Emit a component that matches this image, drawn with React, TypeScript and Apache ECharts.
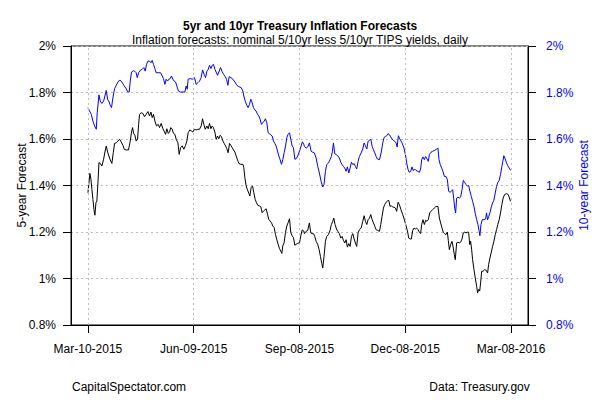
import React, { useEffect, useRef } from 'react';
import * as echarts from 'echarts';

// x values are days since Mar-10-2015
const tickDays = [0, 91, 182, 273, 364];
const tickLabels = ['Mar-10-2015', 'Jun-09-2015', 'Sep-08-2015', 'Dec-08-2015', 'Mar-08-2016'];

const yMin = 0.8;
const yMax = 2;
const yStep = 0.2;

// 5-year breakeven inflation forecast (%), [day, value]
const fiveYear: [number, number][] = [
  [0, 1.369], [0.9, 1.412], [1.7, 1.452], [2.6, 1.427], [3.4, 1.384], [4.3, 1.34], [5.2, 1.297], [6.0, 1.272], [6.9, 1.326], [7.7, 1.333],
  [8.6, 1.412], [9.5, 1.498], [10.6, 1.495], [12.0, 1.484], [13.5, 1.513], [14.6, 1.544], [15.8, 1.57], [16.9, 1.544], [18.0, 1.527], [19.2, 1.51],
  [20.6, 1.495], [21.8, 1.541], [22.9, 1.581], [24.4, 1.584], [25.8, 1.591], [27.2, 1.599], [28.7, 1.587], [30.1, 1.573], [31.2, 1.556], [32.9, 1.553],
  [34.9, 1.553], [36.4, 1.591], [37.5, 1.63], [38.4, 1.649], [39.3, 1.624], [40.4, 1.616], [41.5, 1.591], [42.7, 1.599], [43.6, 1.663], [44.4, 1.706],
  [45.8, 1.713], [47.3, 1.71], [48.7, 1.696], [50.1, 1.706], [51.6, 1.718], [53.0, 1.699], [54.2, 1.716], [55.3, 1.692], [56.4, 1.706], [57.6, 1.677],
  [59.0, 1.656], [60.5, 1.663], [61.6, 1.649], [63.0, 1.667], [64.5, 1.644], [65.9, 1.63], [66.8, 1.62], [67.9, 1.644], [69.1, 1.624], [70.2, 1.63],
  [71.3, 1.649], [72.5, 1.642], [73.6, 1.624], [74.8, 1.62], [75.9, 1.599], [77.4, 1.584], [78.5, 1.534], [79.7, 1.563], [81.1, 1.57], [82.5, 1.556],
  [84.0, 1.573], [85.1, 1.591], [86.2, 1.627], [87.7, 1.639], [89.1, 1.634], [90.2, 1.63],
  [91.7, 1.642], [93.1, 1.639], [94.6, 1.642], [96.0, 1.642], [97.4, 1.656], [98.6, 1.687], [99.7, 1.663], [100.9, 1.642], [102.3, 1.656], [103.5, 1.644],
  [104.6, 1.667], [105.8, 1.644], [106.9, 1.656], [108.0, 1.649], [109.2, 1.63], [110.3, 1.599], [111.5, 1.613], [112.6, 1.601], [113.8, 1.616], [114.9, 1.61],
  [116.1, 1.591], [117.2, 1.581], [118.4, 1.57], [119.5, 1.558], [120.6, 1.541], [121.8, 1.581], [122.9, 1.573], [124.1, 1.563], [125.2, 1.553], [126.4, 1.544],
  [127.5, 1.527], [128.7, 1.51], [129.8, 1.495], [131.5, 1.491], [133.3, 1.491], [134.1, 1.477], [135.0, 1.434], [136.1, 1.398], [137.3, 1.381], [138.4, 1.366],
  [139.3, 1.355], [140.4, 1.391], [141.6, 1.398], [142.7, 1.369], [143.9, 1.34], [145.0, 1.326], [146.1, 1.315], [147.6, 1.312], [148.7, 1.309], [149.9, 1.283],
  [151.0, 1.29], [152.2, 1.295], [153.3, 1.3], [154.5, 1.276], [155.6, 1.254], [156.7, 1.247], [157.9, 1.24], [159.0, 1.226], [160.2, 1.219], [161.3, 1.19],
  [162.5, 1.166], [163.6, 1.147], [164.8, 1.128], [165.9, 1.118], [166.8, 1.108], [167.6, 1.14], [168.8, 1.154], [169.9, 1.197], [171.1, 1.226], [172.2, 1.24],
  [173.4, 1.257], [174.5, 1.197], [175.7, 1.183], [176.8, 1.176], [178.0, 1.143], [179.1, 1.147], [180.5, 1.151], [182.0, 1.154], [183.1, 1.183], [184.3, 1.209],
  [185.7, 1.204],
  [186.2, 1.193], [187.7, 1.203], [189.1, 1.207], [190.5, 1.239], [191.7, 1.196], [192.8, 1.193], [194.0, 1.193], [195.1, 1.181], [196.3, 1.16], [197.7, 1.146],
  [198.9, 1.124], [200.0, 1.095], [201.2, 1.064], [202.0, 1.045], [203.1, 1.095], [204.3, 1.16], [205.4, 1.181], [206.9, 1.189], [208.3, 1.207], [209.4, 1.232],
  [210.6, 1.246], [211.5, 1.26], [212.6, 1.232], [213.8, 1.213], [214.9, 1.203], [216.3, 1.193], [217.5, 1.174], [218.6, 1.181], [219.8, 1.164], [220.9, 1.153],
  [222.1, 1.167], [223.2, 1.135], [224.4, 1.15], [225.5, 1.138], [226.7, 1.181], [227.8, 1.193], [229.0, 1.17], [230.1, 1.153], [231.2, 1.138], [232.4, 1.196],
  [233.5, 1.21], [235.0, 1.217], [236.4, 1.246], [237.6, 1.27], [238.7, 1.246], [239.9, 1.232], [241.0, 1.253], [242.2, 1.26], [243.3, 1.275], [244.5, 1.253],
  [245.6, 1.239], [246.8, 1.224], [247.9, 1.21], [249.0, 1.207], [250.8, 1.203], [251.9, 1.232], [253.0, 1.267], [254.2, 1.303], [255.3, 1.318], [256.5, 1.328],
  [257.6, 1.333], [258.8, 1.336], [259.9, 1.31], [261.0, 1.313], [262.2, 1.307], [263.3, 1.307], [264.5, 1.303], [265.6, 1.289], [266.8, 1.328],
  [267.9, 1.318], [269.3, 1.296], [270.8, 1.275], [272.2, 1.253], [273.6, 1.228], [275.1, 1.199], [275.9, 1.174], [277.1, 1.17], [278.2, 1.17], [279.4, 1.207],
  [280.5, 1.217], [281.7, 1.213], [282.8, 1.217], [284.0, 1.21], [285.1, 1.199], [286.2, 1.193], [287.1, 1.232], [288.2, 1.253], [289.4, 1.232], [290.5, 1.25],
  [291.7, 1.246], [292.8, 1.253], [294.0, 1.282], [295.1, 1.289], [296.5, 1.296], [297.9, 1.303], [299.4, 1.31], [301.1, 1.31], [302.3, 1.26], [303.4, 1.239],
  [304.6, 1.217], [305.7, 1.199], [306.9, 1.193], [308.0, 1.189], [309.2, 1.199], [310.0, 1.164], [310.9, 1.124], [312.0, 1.146], [313.2, 1.16], [314.3, 1.131],
  [315.2, 1.102], [316.0, 1.081], [317.2, 1.153], [318.3, 1.156], [319.5, 1.153], [320.6, 1.156], [321.8, 1.17], [322.9, 1.196], [324.1, 1.199], [325.2, 1.196],
  [326.4, 1.199], [327.5, 1.199], [328.4, 1.146], [329.2, 1.16], [330.1, 1.124], [330.9, 1.081], [332.1, 1.038], [333.2, 1.002], [334.4, 0.966], [335.2, 0.938],
  [336.1, 0.953], [337.0, 0.946], [337.8, 0.981], [338.7, 1.031], [339.8, 1.031], [341.3, 1.038], [342.7, 1.035], [343.8, 1.024], [344.7, 1.06], [345.8, 1.088],
  [347.0, 1.113], [348.1, 1.138], [349.2, 1.16], [350.4, 1.189], [351.5, 1.21], [352.6, 1.232], [353.8, 1.253], [354.9, 1.282], [356.1, 1.318], [357.2, 1.346],
  [358.4, 1.361], [360.1, 1.365], [361.5, 1.361], [362.4, 1.35], [363.5, 1.332],
];

// 10-year breakeven inflation forecast (%), [day, value]
const tenYear: [number, number][] = [
  [0, 1.735], [1.4, 1.72], [2.9, 1.706], [4.3, 1.677], [5.7, 1.656], [7.2, 1.642], [8.0, 1.713], [9.5, 1.79], [10.6, 1.763], [12.0, 1.753],
  [13.5, 1.763], [14.6, 1.785], [15.8, 1.809], [16.9, 1.771], [18.3, 1.759], [19.2, 1.745], [20.3, 1.735], [21.5, 1.778], [22.9, 1.816], [24.4, 1.831],
  [25.8, 1.845], [27.5, 1.854], [29.2, 1.845], [30.9, 1.831], [32.9, 1.816], [34.4, 1.802], [35.5, 1.802], [36.4, 1.849], [37.5, 1.888], [39.3, 1.894],
  [40.4, 1.891], [41.5, 1.885], [42.4, 1.864], [43.6, 1.885], [45.0, 1.895], [46.7, 1.9], [48.1, 1.907], [49.3, 1.892], [50.4, 1.921], [51.6, 1.935],
  [53.0, 1.935], [54.2, 1.928], [55.3, 1.938], [56.4, 1.921], [57.6, 1.903], [58.7, 1.885], [60.5, 1.885], [62.5, 1.885], [63.9, 1.871], [65.0, 1.86],
  [66.2, 1.835], [67.3, 1.857], [68.5, 1.849], [69.6, 1.857], [70.8, 1.86], [71.9, 1.871], [73.1, 1.857], [74.2, 1.849], [75.4, 1.845], [76.5, 1.828],
  [77.9, 1.806], [79.4, 1.802], [81.7, 1.802], [83.4, 1.802], [84.5, 1.828], [85.4, 1.814], [86.2, 1.857], [88.0, 1.86], [89.7, 1.857],
  [91.7, 1.864], [93.1, 1.835], [94.6, 1.842], [96.0, 1.849], [97.4, 1.864], [98.6, 1.897], [100.0, 1.878], [101.2, 1.864], [102.3, 1.892], [103.5, 1.9],
  [104.6, 1.917], [105.8, 1.903], [106.9, 1.917], [108.0, 1.921], [109.2, 1.9], [110.3, 1.888], [111.5, 1.874], [112.6, 1.888], [114.1, 1.907], [115.2, 1.892],
  [116.7, 1.878], [118.1, 1.868], [119.2, 1.857], [120.4, 1.831], [121.5, 1.868], [123.0, 1.864], [124.7, 1.857], [126.4, 1.845], [128.1, 1.831], [129.8, 1.825],
  [131.8, 1.821], [133.3, 1.806], [134.1, 1.785], [135.3, 1.763], [136.7, 1.745], [137.8, 1.735], [139.0, 1.749], [140.1, 1.771], [141.3, 1.756], [142.4, 1.735],
  [143.6, 1.725], [144.7, 1.72], [145.9, 1.706], [147.0, 1.699], [148.1, 1.685], [149.3, 1.663], [150.4, 1.67], [151.6, 1.677], [152.7, 1.687], [153.9, 1.67],
  [155.0, 1.627], [156.8, 1.62], [158.5, 1.613], [159.6, 1.591], [160.8, 1.581], [161.9, 1.57], [163.1, 1.548], [164.2, 1.527], [165.4, 1.51], [166.5, 1.491],
  [167.7, 1.513], [168.8, 1.541], [170.0, 1.57], [171.1, 1.606], [172.2, 1.62], [173.4, 1.627], [174.5, 1.599], [175.7, 1.57], [176.8, 1.563], [178.0, 1.513],
  [179.1, 1.515], [180.5, 1.527], [182.0, 1.548], [183.4, 1.57], [184.5, 1.588], [185.7, 1.577],
  [186.2, 1.568], [187.7, 1.561], [189.1, 1.566], [190.5, 1.583], [192.0, 1.547], [193.4, 1.543], [194.8, 1.54], [196.3, 1.518], [197.7, 1.482], [199.1, 1.454],
  [200.6, 1.418], [202.0, 1.394], [203.1, 1.404], [204.3, 1.461], [205.4, 1.49], [206.9, 1.497], [208.3, 1.511], [209.4, 1.525], [210.3, 1.547], [211.2, 1.583],
  [212.3, 1.537], [213.5, 1.533], [214.9, 1.528], [216.3, 1.518], [217.5, 1.5], [218.6, 1.49], [219.8, 1.482], [220.9, 1.475], [222.1, 1.461], [223.2, 1.48],
  [224.4, 1.454], [225.5, 1.475], [226.7, 1.5], [227.8, 1.49], [229.0, 1.494], [230.1, 1.482], [231.2, 1.471], [232.4, 1.504], [233.5, 1.525], [235.0, 1.54],
  [236.4, 1.557], [237.6, 1.583], [238.7, 1.571], [239.9, 1.557], [241.0, 1.59], [242.2, 1.594], [243.3, 1.6], [244.5, 1.568], [245.6, 1.554], [246.8, 1.54],
  [247.9, 1.525], [249.0, 1.514], [250.8, 1.511], [252.2, 1.54], [253.6, 1.583], [254.8, 1.607], [255.9, 1.611], [257.1, 1.614], [258.2, 1.623], [259.3, 1.619],
  [260.5, 1.609], [261.6, 1.6], [262.8, 1.594], [263.9, 1.59], [265.1, 1.583], [266.0, 1.566], [267.1, 1.614],
  [267.9, 1.604], [270.2, 1.583], [271.9, 1.561], [273.1, 1.533], [274.2, 1.497], [275.4, 1.468], [276.5, 1.457], [277.6, 1.46], [278.8, 1.48], [279.9, 1.464],
  [281.1, 1.471], [282.2, 1.465], [283.7, 1.461], [285.1, 1.457], [286.2, 1.471], [287.1, 1.511], [288.2, 1.523], [289.4, 1.511], [290.5, 1.525], [291.7, 1.514],
  [292.8, 1.504], [293.7, 1.533], [295.1, 1.543], [296.5, 1.547], [298.3, 1.551], [300.0, 1.557], [301.1, 1.561], [302.0, 1.511], [303.1, 1.49], [304.3, 1.475],
  [305.4, 1.461], [306.6, 1.439], [308.0, 1.439], [309.2, 1.425], [310.3, 1.375], [311.5, 1.371], [312.6, 1.375], [313.8, 1.382], [314.6, 1.346], [315.5, 1.303],
  [316.3, 1.282], [317.2, 1.346], [318.3, 1.35], [319.5, 1.346], [320.6, 1.35], [321.8, 1.382], [322.9, 1.422], [324.1, 1.413], [325.2, 1.404], [326.6, 1.397],
  [327.5, 1.4], [328.6, 1.375], [329.8, 1.353], [330.9, 1.332], [332.1, 1.31], [333.2, 1.279], [334.4, 1.253], [335.5, 1.232], [336.4, 1.207], [337.2, 1.184],
  [338.1, 1.232], [339.2, 1.253], [340.7, 1.253], [342.1, 1.256], [342.9, 1.282], [343.8, 1.253], [344.7, 1.265], [345.8, 1.282], [347.0, 1.308], [348.1, 1.325],
  [349.2, 1.336], [350.4, 1.368], [351.5, 1.396], [352.6, 1.413], [353.8, 1.422], [354.9, 1.447], [356.1, 1.482], [356.9, 1.504], [357.8, 1.528], [359.0, 1.514],
  [360.1, 1.497], [361.2, 1.485], [362.4, 1.475], [363.5, 1.465],
];

const FONT = '"Liberation Sans", Arial, Helvetica, sans-serif';
const GRID_COLOR = '#bdbdbd';
const BLUE = '#0000ff';

const pct = (v: number) => `${parseFloat(v.toFixed(1))}%`;

export default function App() {
  const ref = useRef<HTMLDivElement>(null);

  useEffect(() => {
    if (!ref.current) return;
    const chart = echarts.init(ref.current, null, { renderer: 'svg' });
    const span = tickDays[tickDays.length - 1] - tickDays[0];
    const pad = span * 0.04;

    chart.setOption({
      animation: false,
      backgroundColor: '#ffffff',
      textStyle: { fontFamily: FONT },
      title: [
        {
          text: '5yr and 10yr Treasury Inflation Forecasts',
          left: 'center',
          top: 15,
          textStyle: { fontFamily: FONT, fontSize: 12, fontWeight: 'bold', color: '#000' },
        },
        {
          text: 'Inflation forecasts: nominal 5/10yr less 5/10yr TIPS yields, daily',
          left: 'center',
          top: 29,
          textStyle: { fontFamily: FONT, fontSize: 12, fontWeight: 'normal', color: '#000' },
        },
      ],
      grid: {
        left: 71,
        right: 72,
        top: 46,
        bottom: 75,
        show: true,
        borderColor: '#000',
        borderWidth: 1,
        backgroundColor: 'transparent',
      },
      xAxis: {
        type: 'value',
        min: tickDays[0] - pad,
        max: tickDays[tickDays.length - 1] + pad,
        axisLine: { show: true, onZero: false, lineStyle: { color: '#000', width: 1 } },
        axisTick: {
          show: true,
          customValues: tickDays,
          length: 8,
          lineStyle: { color: '#000', width: 1 },
        },
        axisLabel: {
          customValues: tickDays,
          formatter: (v: number) => tickLabels[tickDays.indexOf(Math.round(v))] ?? '',
          fontFamily: FONT,
          fontSize: 12,
          color: '#000',
          margin: 18,
        },
        splitLine: { show: false },
      },
      yAxis: [
        {
          type: 'value',
          position: 'left',
          min: yMin,
          max: yMax,
          interval: yStep,
          name: '5-year Forecast',
          nameLocation: 'middle',
          nameGap: 43,
          nameMoveOverlap: false,
          nameTextStyle: { fontFamily: FONT, fontSize: 12, color: '#000' },
          axisLine: { show: true, onZero: false, lineStyle: { color: '#000', width: 1 } },
          axisTick: { show: true, length: 8, lineStyle: { color: '#000', width: 1 } },
          axisLabel: { formatter: pct, fontFamily: FONT, fontSize: 12, color: '#000', margin: 15 },
          splitLine: { show: true, lineStyle: { color: GRID_COLOR, type: [2, 3], width: 1 } },
        },
        {
          type: 'value',
          position: 'right',
          min: yMin,
          max: yMax,
          interval: yStep,
          name: '10-year Forecast',
          nameLocation: 'middle',
          nameGap: 50,
          nameMoveOverlap: false,
          nameTextStyle: { fontFamily: FONT, fontSize: 12, color: BLUE },
          axisLine: { show: true, onZero: false, lineStyle: { color: '#000', width: 1 } },
          axisTick: { show: true, length: 8, lineStyle: { color: '#000', width: 1 } },
          axisLabel: { formatter: pct, fontFamily: FONT, fontSize: 12, color: BLUE, margin: 18 },
          splitLine: { show: false },
        },
      ],
      series: [
        {
          type: 'line',
          name: 'grid',
          data: [],
          z: 1,
          silent: true,
          markLine: {
            silent: true,
            symbol: ['none', 'none'],
            label: { show: false },
            emphasis: { disabled: true },
            lineStyle: { color: GRID_COLOR, type: [2, 3], width: 1 },
            data: tickDays.map((d) => ({ xAxis: d })),
          },
        },
        {
          type: 'line',
          name: '5-year',
          data: fiveYear,
          yAxisIndex: 0,
          symbol: 'none',
          showSymbol: false,
          z: 3,
          lineStyle: { color: '#000', width: 1 },
          itemStyle: { color: '#000' },
        },
        {
          type: 'line',
          name: '10-year',
          data: tenYear,
          yAxisIndex: 1,
          symbol: 'none',
          showSymbol: false,
          z: 3,
          lineStyle: { color: BLUE, width: 1 },
          itemStyle: { color: BLUE },
        },
      ],
      graphic: [
        {
          type: 'text',
          left: 72,
          top: 381,
          style: { text: 'CapitalSpectator.com', fontFamily: FONT, fontSize: 12, fill: '#000' },
        },
        {
          type: 'text',
          right: 70,
          top: 381,
          style: { text: 'Data: Treasury.gov', fontFamily: FONT, fontSize: 12, fill: '#000' },
        },
      ],
    });

    return () => chart.dispose();
  }, []);

  return (
    <div
      ref={ref}
      style={{ position: 'fixed', left: 0, top: 0, width: 600, height: 400 }}
    />
  );
}
